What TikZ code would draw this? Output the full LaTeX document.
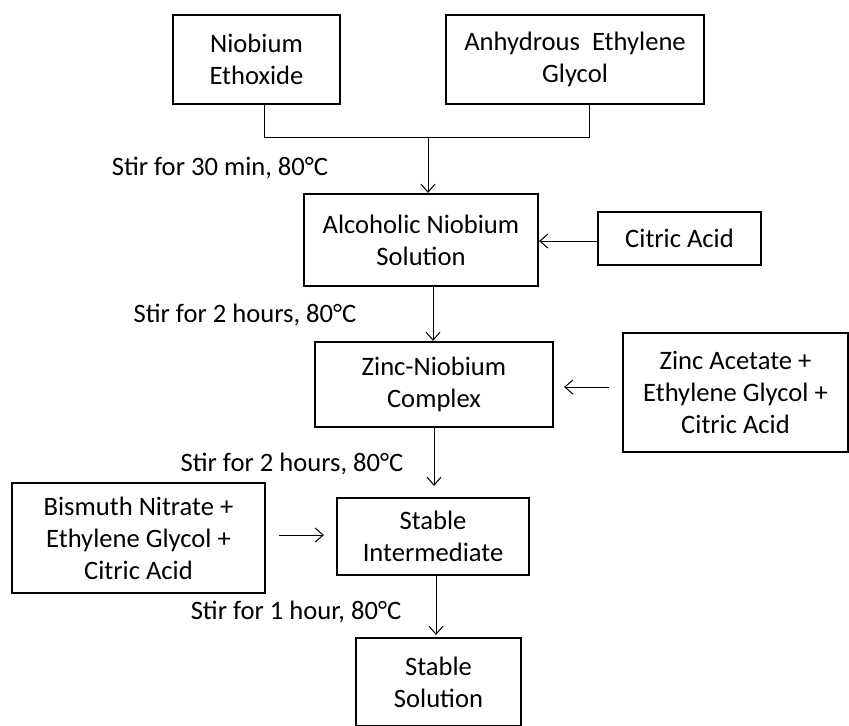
\documentclass[tikz,border=0pt]{standalone}
\usepackage{fontspec}
\setmainfont{Carlito}
\usetikzlibrary{arrows.meta}

\begin{document}
\begin{tikzpicture}[
    x=0.5pt,y=-0.5pt,
    stage/.style={draw,line width=1.1pt,align=center,inner sep=2pt,
                  font=\fontsize{13.3}{16}\selectfont},
    link/.style={line width=0.5pt},
    flow/.style={line width=0.5pt,-{Straight Barb[length=4pt,width=7pt]}},
    cond/.style={font=\fontsize{13.3}{16}\selectfont}
]
    \useasboundingbox (0,0) rectangle (849,725);

    % Starting reagents and the main chain of intermediates.
    \node[stage,minimum width=83.5pt,minimum height=44.5pt] (nbeth) at (256.5,59.5) {Niobium\\Ethoxide};
    \node[stage,minimum width=129pt,minimum height=44.5pt] (eglycol) at (575,59.5) {Anhydrous\hspace{0.45em}Ethylene\\Glycol};
    \node[stage,minimum width=117pt,minimum height=46pt] (alcsol) at (421,240) {Alcoholic Niobium\\Solution};
    \node[stage,minimum width=81.5pt,minimum height=26.5pt] (citric) at (679.5,238.5) {Citric Acid};
    \node[stage,minimum width=119pt,minimum height=42.5pt] (znnb) at (434,384.5) {Zinc-Niobium\\Complex};
    \node[stage,minimum width=112.5pt,minimum height=59.5pt] (znac) at (735.5,392.5) {Zinc Acetate +\\Ethylene Glycol +\\Citric Acid};
    \node[stage,minimum width=126.5pt,minimum height=55pt] (bism) at (138.5,538) {Bismuth Nitrate +\\Ethylene Glycol +\\Citric Acid};
    \node[stage,minimum width=96pt,minimum height=38.5pt] (stint) at (433,536.5) {Stable\\Intermediate};
    \node[stage,minimum width=82.5pt,minimum height=44pt] (stsol) at (438.5,682) {Stable\\Solution};

    % Merge of the two starting reagents.
    \coordinate (join) at (428,137);
    \draw[link] ([xshift=3.75pt]nbeth.south) |- (join) -| ([xshift=7pt]eglycol.south);
    \draw[flow] (join) -- (join |- alcsol.north);

    % Additions and stirring steps.
    \draw[flow] (citric.west |- 0,241) -- (alcsol.east |- 0,241);
    \draw[flow] ([xshift=6pt]alcsol.south) -- ([xshift=6pt]alcsol.south |- znnb.north);
    \draw[flow,shorten <=6.5pt,shorten >=5pt] (znac.west |- 0,387) -- (znnb.east |- 0,387);
    \draw[flow,shorten >=5.5pt] (znnb.south) -- (znnb.south |- stint.north);
    \draw[flow,shorten <=6.5pt,shorten >=6pt] (bism.east |- 0,535) -- (stint.west |- 0,535);
    \draw[flow,shorten >=1pt] ([xshift=1.5pt]stint.south) -- ([xshift=1.5pt]stint.south |- stsol.north);

    \node[cond] (c1) at (220,168) {Stir for 30 min, 80°C};
    \node[cond] (c2) at (245,315) {Stir for 2 hours, 80°C};
    \node[cond] (c3) at (292,464) {Stir for 2 hours, 80°C};
    \node[cond] (c4) at (296,612) {Stir for 1 hour, 80°C};
\end{tikzpicture}
\end{document}
